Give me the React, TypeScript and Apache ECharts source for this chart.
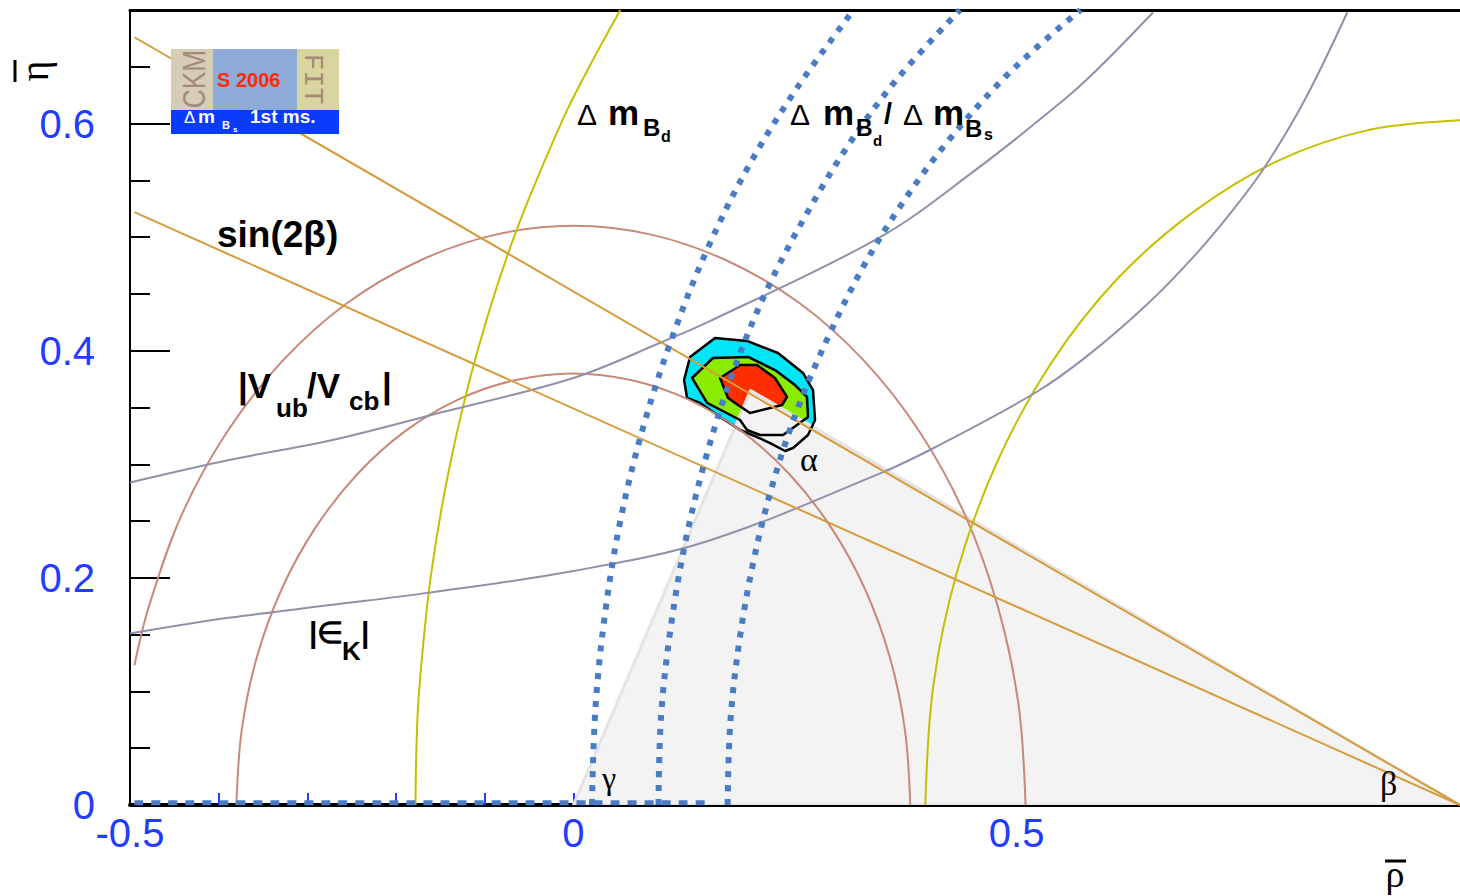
import React, { useEffect, useRef } from 'react';
import * as echarts from 'echarts';

// ---- data (rho, eta) ----
const xLabelValues = [-0.5, 0, 0.5];
const xTickValues = [-0.4, -0.3, -0.2, -0.1, 0];

const sin2bUpper = [[-0.495, 0.676], [1.0, 0.0]];
const sin2bLower = [[-0.495, 0.522], [1.0, 0.0]];

const vubOuter = [[-0.495, 0.123], [-0.479, 0.174], [-0.442, 0.255], [-0.391, 0.328], [-0.328, 0.391], [-0.255, 0.442], [-0.174, 0.479], [-0.089, 0.502], [0, 0.51], [0.089, 0.502], [0.174, 0.479], [0.255, 0.442], [0.328, 0.391], [0.391, 0.328], [0.442, 0.255], [0.479, 0.174], [0.502, 0.089], [0.51, 0]];
const vubInner = [[-0.38, 0], [-0.374, 0.066], [-0.357, 0.13], [-0.329, 0.19], [-0.291, 0.244], [-0.244, 0.291], [-0.19, 0.329], [-0.13, 0.357], [-0.066, 0.374], [0, 0.38], [0.066, 0.374], [0.13, 0.357], [0.19, 0.329], [0.244, 0.291], [0.291, 0.244], [0.329, 0.19], [0.357, 0.13], [0.374, 0.066], [0.38, 0]];

const dmdLeft = [[-0.178, 0], [-0.177, 0.05], [-0.174, 0.1], [-0.161, 0.2], [-0.139, 0.3], [-0.108, 0.4], [-0.067, 0.5], [-0.014, 0.6], [0.018, 0.65], [0.053, 0.7]];
const dmdRight = [[0.397, 0], [0.406, 0.105], [0.433, 0.206], [0.478, 0.302], [0.538, 0.388], [0.612, 0.462], [0.699, 0.522], [0.794, 0.567], [0.895, 0.594], [1.0, 0.603]];

const ratio1 = [[0.021, 0], [0.025, 0.086], [0.036, 0.17], [0.054, 0.254], [0.08, 0.336], [0.113, 0.415], [0.152, 0.491], [0.198, 0.563], [0.252, 0.631], [0.316, 0.7]];
const ratio2 = [[0.096, 0], [0.099, 0.079], [0.11, 0.157], [0.127, 0.234], [0.151, 0.31], [0.181, 0.383], [0.218, 0.453], [0.262, 0.519], [0.311, 0.582], [0.366, 0.64], [0.436, 0.7]];
const ratio3 = [[0.174, 0], [0.177, 0.072], [0.187, 0.143], [0.203, 0.214], [0.225, 0.283], [0.253, 0.349], [0.288, 0.413], [0.327, 0.474], [0.372, 0.531], [0.422, 0.584], [0.477, 0.633], [0.524, 0.668], [0.572, 0.7]];
const ratioBase = [[-0.495, 0.002], [0.157, 0.002]];

const ekLower = [[-0.5, 0.151], [-0.387, 0.165], [-0.274, 0.176], [-0.162, 0.187], [0, 0.206], [0.15, 0.232], [0.346, 0.292], [0.408, 0.315], [0.521, 0.363], [0.579, 0.395], [0.646, 0.44], [0.701, 0.484], [0.742, 0.522], [0.78, 0.562], [0.825, 0.621], [0.873, 0.698]];
const ekUpper = [[-0.5, 0.284], [-0.387, 0.304], [-0.274, 0.321], [-0.162, 0.343], [0, 0.376], [0.098, 0.407], [0.154, 0.426], [0.346, 0.5], [0.45, 0.557], [0.555, 0.622], [0.594, 0.65], [0.654, 0.698]];

const triangle = [[0, 0], [1, 0], [0.2, 0.365]];

const contour95 = [[0.1598, 0.4112], [0.1959, 0.4086], [0.2308, 0.398], [0.259, 0.3804], [0.2703, 0.3654], [0.2726, 0.339], [0.2647, 0.3258], [0.2478, 0.3143], [0.2388, 0.3117], [0.2219, 0.3187], [0.2072, 0.324], [0.188, 0.3302], [0.1655, 0.3416], [0.1429, 0.354], [0.1283, 0.3584], [0.1249, 0.3742], [0.1316, 0.3945]];
const contour90 = [[0.1339, 0.376], [0.1575, 0.3936], [0.197, 0.3945], [0.2274, 0.383], [0.25, 0.3698], [0.2635, 0.3593], [0.2647, 0.3416], [0.2365, 0.3258], [0.2106, 0.3258], [0.1959, 0.3302], [0.188, 0.339], [0.1508, 0.354]];
const contour68 = [[0.1655, 0.376], [0.188, 0.3874], [0.2072, 0.3874], [0.2274, 0.376], [0.241, 0.3593], [0.2354, 0.3522], [0.1993, 0.3452], [0.1857, 0.3522], [0.1745, 0.3584]];

// ---- styles ----
const BLUE = '#1f3cff';
const ORANGE = '#d69c3c';
const PINK = '#c8897b';
const YELLOW = '#c6bf00';
const GRAY = '#9090aa';
const DOT = '#4a7cc4';

const lineSeries = (name: string, data: number[][], color: string, width: number, z: number, dash?: any) => ({
  type: 'line', name, data, showSymbol: false, symbol: 'none', smooth: 0.35, silent: true, z,
  lineStyle: { color, width, type: dash || 'solid', cap: 'butt' },
});

const polySeries = (name: string, data: number[][], fill: string, stroke: string, lw: number, z: number) => ({
  type: 'custom', name, data, z, silent: true, clip: true,
  encode: { x: 0, y: 1 },
  renderItem: (params: any, api: any) => {
    if (params.dataIndex !== 0) return null;
    const points = data.map((p) => api.coord(p));
    return { type: 'polygon', shape: { points }, style: { fill, stroke, lineWidth: lw, lineJoin: 'round' } };
  },
});

const txt = (x: number, base: number, text: string, size: number, weight: string = 'bold', family = 'Liberation Sans', fill = '#000') => ({
  type: 'text', x, y: base - 0.35 * size, z: 100, silent: true,
  style: { text, fontSize: size, fontWeight: weight, fontFamily: family, fill, align: 'left', verticalAlign: 'middle' },
});

const graphics: any[] = [
  // labels
  txt(577, 125, 'Δ', 30, 'normal'), txt(608, 125, 'm', 35), txt(643, 136, 'B', 24), txt(661, 142, 'd', 16),
  txt(790, 125, 'Δ', 30, 'normal'), txt(823, 125, 'm', 35), txt(856, 136, 'B', 23), txt(873, 146, 'd', 15),
  txt(884, 124, '/', 29), txt(903, 125, 'Δ', 30, 'normal'), txt(933, 125, 'm', 35), txt(965, 137, 'B', 24), txt(984, 140, 's', 16),
  txt(217, 247, 'sin(2β)', 37),
  txt(238, 398, '|V', 35), txt(276, 417, 'ub', 26), txt(307, 398, '/V', 35), txt(349, 410, 'cb', 26), txt(382, 398, '|', 35),
  txt(309, 643, '|∈', 30), txt(342, 660, 'K', 26), txt(361, 643, '|', 30),
  txt(800, 471, 'α', 34, 'normal', 'Liberation Serif'),
  txt(602, 789, 'γ', 32, 'normal', 'Liberation Serif'),
  txt(1380, 795, 'β', 34, 'normal', 'Liberation Serif'),
  // logo
  { type: 'rect', shape: { x: 171, y: 49, width: 42, height: 61 }, style: { fill: '#d5cdb5' }, z: 99 },
  { type: 'rect', shape: { x: 213, y: 49, width: 84, height: 61 }, style: { fill: '#8eabd9' }, z: 99 },
  { type: 'rect', shape: { x: 297, y: 49, width: 42, height: 61 }, style: { fill: '#d9d59e' }, z: 99 },
  { type: 'rect', shape: { x: 171, y: 110, width: 168, height: 24 }, style: { fill: '#0a3bff' }, z: 99 },
  { type: 'text', x: 194, y: 79, rotation: Math.PI / 2, scaleX: 0.82, z: 100, style: { text: 'CKM', fontSize: 32, fontFamily: 'Liberation Sans', fill: '#a48a78', align: 'center', verticalAlign: 'middle' } },
  { type: 'text', x: 312, y: 79, rotation: -Math.PI / 2, z: 100, style: { text: 'FIT', fontSize: 28, fontFamily: 'Liberation Mono', fill: '#a48a78', align: 'center', verticalAlign: 'middle' } },
  txt(217, 87, 'S 2006', 20, 'bold', 'Liberation Sans', '#ff2a00'),
  txt(184, 123, 'Δ', 17, 'normal', 'Liberation Sans', '#fff'),
  txt(198, 123, 'm', 19, 'bold', 'Liberation Sans', '#fff'),
  txt(222, 129, 'B', 11, 'bold', 'Liberation Sans', '#fff'),
  txt(233, 132, 's', 8, 'bold', 'Liberation Sans', '#fff'),
  txt(250, 123, '1st ms.', 19, 'bold', 'Liberation Sans', '#fff'),
  // axis names
  { type: 'text', x: 34, y: 71, rotation: Math.PI / 2, z: 100, style: { text: 'η', fontSize: 40, fontFamily: 'Liberation Serif', fill: '#000', align: 'center', verticalAlign: 'middle' } },
  { type: 'line', shape: { x1: 15, y1: 60, x2: 15, y2: 82 }, style: { stroke: '#000', lineWidth: 3 }, z: 100 },
  { type: 'text', x: 1395, y: 874, z: 100, style: { text: 'ρ', fontSize: 38, fontFamily: 'Liberation Serif', fill: '#000', align: 'center', verticalAlign: 'middle' } },
  { type: 'line', shape: { x1: 1385, y1: 861, x2: 1406, y2: 861 }, style: { stroke: '#000', lineWidth: 3 }, z: 100 },
];

const fmt = (v: number) => {
  const r = Math.round(v * 10) / 10;
  return r === 0 ? '0' : String(r);
};

const option: any = {
  animation: false,
  backgroundColor: '#fff',
  grid: { left: 130, right: 0, top: 10, bottom: 91 },
  xAxis: [
    {
      type: 'value', min: -0.5, max: 1.0, position: 'bottom',
      axisLine: { show: true, onZero: false, lineStyle: { color: '#000', width: 4 } },
      axisTick: { show: true, inside: true, length: 12, customValues: xTickValues, lineStyle: { color: BLUE, width: 2 } },
      axisLabel: { show: true, customValues: xLabelValues, formatter: fmt, color: BLUE, fontSize: 40, fontFamily: 'Liberation Sans', margin: 8 },
      splitLine: { show: false },
    },
    {
      type: 'value', min: -0.5, max: 1.0, position: 'top',
      axisLine: { show: true, onZero: false, lineStyle: { color: '#000', width: 3 } },
      axisTick: { show: false }, axisLabel: { show: false }, splitLine: { show: false },
    },
  ],
  yAxis: [
    {
      type: 'value', min: 0, max: 0.7, interval: 0.2, position: 'left',
      axisLine: { show: true, onZero: false, lineStyle: { color: '#000', width: 2 } },
      axisTick: { show: true, inside: true, length: 40, lineStyle: { color: '#000', width: 2 } },
      axisLabel: {
        show: true, color: BLUE, fontSize: 40, fontFamily: 'Liberation Sans', margin: 35,
        formatter: (v: number) => (Math.abs(v - 0.7) < 1e-6 ? '' : fmt(v)),
      },
      splitLine: { show: false },
    },
    {
      type: 'value', min: 0, max: 0.7, interval: 0.05, position: 'left',
      axisLine: { show: false, onZero: false },
      axisTick: { show: true, inside: true, length: 20, lineStyle: { color: '#000', width: 2 } },
      axisLabel: { show: false }, splitLine: { show: false },
    },
  ],
  series: [
    polySeries('CL95', contour95, '#00e6f6', 'none', 0, 2),
    polySeries('CL90', contour90, '#8cec00', 'none', 0, 2),
    polySeries('CL68', contour68, '#ff2e00', 'none', 0, 2),
    polySeries('triangle', triangle, '#f3f3f3', '#e4e4e4', 3, 3),
    polySeries('CL95 line', contour95, 'none', '#000', 2.5, 4),
    polySeries('CL90 line', contour90, 'none', '#000', 2.5, 4),
    polySeries('CL68 line', contour68, 'none', '#000', 2.5, 4),
    lineSeries('Vub outer', vubOuter, PINK, 2, 5),
    lineSeries('Vub inner', vubInner, PINK, 2, 5),
    lineSeries('dmd left', dmdLeft, YELLOW, 2, 5),
    lineSeries('dmd right', dmdRight, YELLOW, 2, 5),
    lineSeries('epsK lower', ekLower, GRAY, 2, 5),
    lineSeries('epsK upper', ekUpper, GRAY, 2, 5),
    lineSeries('sin2b upper', sin2bUpper, ORANGE, 2, 6),
    lineSeries('sin2b lower', sin2bLower, ORANGE, 2, 6),
    lineSeries('ratio 1', ratio1, DOT, 6, 7, [6, 8]),
    lineSeries('ratio 2', ratio2, DOT, 6, 7, [6, 8]),
    lineSeries('ratio 3', ratio3, DOT, 6, 7, [6, 8]),
    lineSeries('ratio base', ratioBase, DOT, 5, 7, [9, 8]),
  ],
  graphic: graphics,
};

export default function App() {
  const ref = useRef<HTMLDivElement>(null);
  useEffect(() => {
    const chart = echarts.init(ref.current as HTMLDivElement, null, { renderer: 'svg' });
    chart.setOption(option);
    return () => chart.dispose();
  }, []);
  return <div ref={ref} style={{ position: 'fixed', left: 0, top: 0, width: 1460, height: 896, background: '#fff' }} />;
}
